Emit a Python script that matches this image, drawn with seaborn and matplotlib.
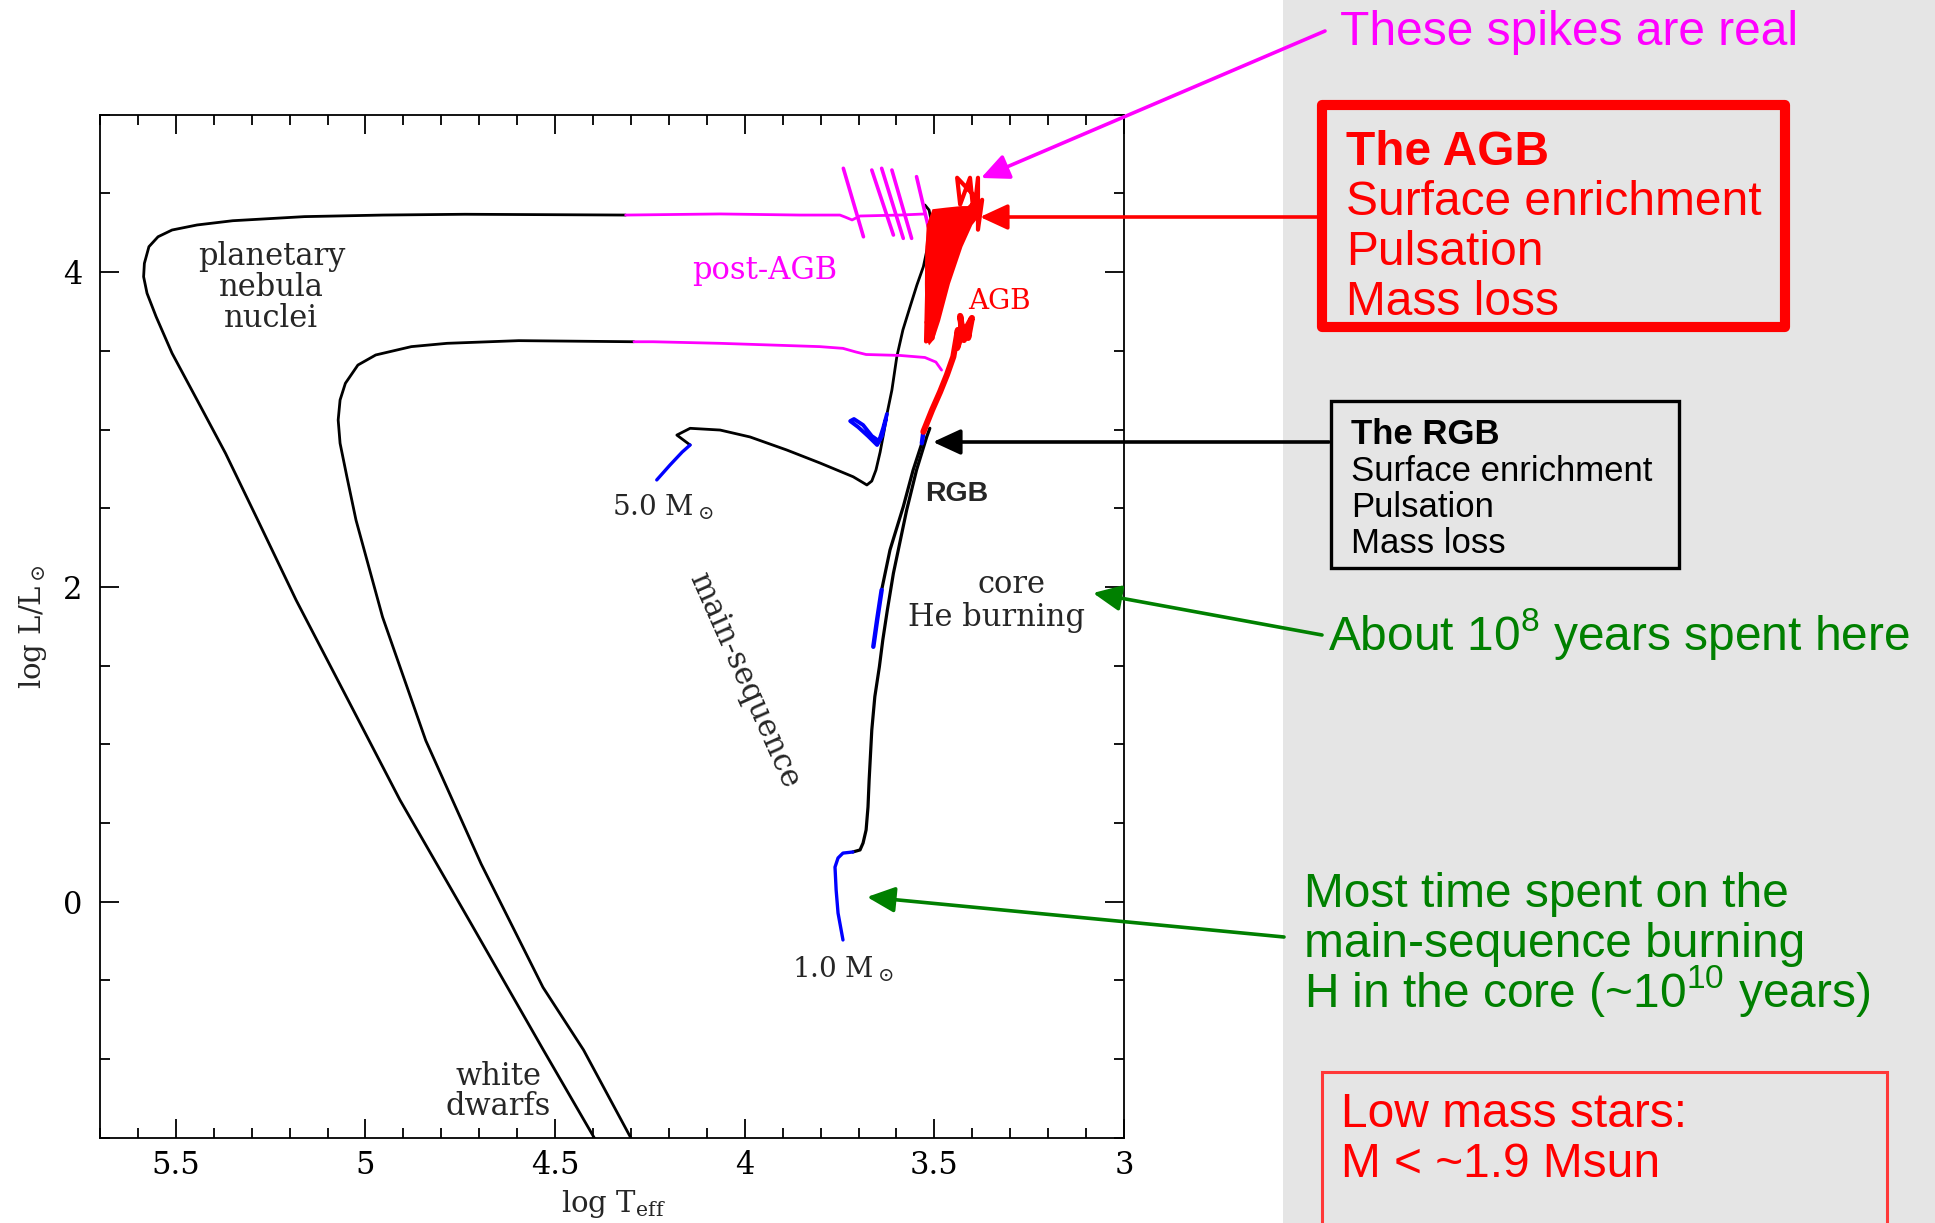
import matplotlib
matplotlib.use("Agg")
import matplotlib.pyplot as plt
import seaborn as sns
from matplotlib.patches import Rectangle, FancyArrowPatch, ArrowStyle
from matplotlib.ticker import MultipleLocator

# ---------------- evolutionary tracks (log Teff, log L/Lsun) ----------------
# 5 Msun: main sequence
ms5_teff = [4.232, 4.197, 4.165, 4.144]
ms5_lum = [2.680, 2.775, 2.857, 2.902]
# 5 Msun: hook, Hertzsprung gap, giant branch and early AGB
giant5_teff = [4.144, 4.179, 4.144, 4.065, 3.986, 3.889, 3.802, 3.714, 3.691, 3.678,
               3.665, 3.654, 3.643, 3.633, 3.625, 3.612, 3.599, 3.583, 3.564, 3.546,
               3.529, 3.514, 3.507, 3.514, 3.525]
giant5_lum = [2.902, 2.965, 3.008, 2.997, 2.953, 2.870, 2.788, 2.700, 2.667, 2.648,
              2.673, 2.743, 2.857, 2.985, 3.099, 3.251, 3.463, 3.633, 3.781, 3.919,
              4.035, 4.204, 4.312, 4.395, 4.427]
# 5 Msun: core He burning loop
heb5_teff = [3.628, 3.638, 3.651, 3.675, 3.701, 3.722, 3.712, 3.688, 3.665, 3.646, 3.635, 3.625]
heb5_lum = [3.061, 2.959, 2.902, 2.959, 3.016, 3.054, 3.067, 3.029, 2.959, 2.927, 3.010, 3.099]
# 5 Msun: thermally pulsing AGB (successive pulse cycles)
tp5_teff = [3.515,
            3.522, 3.505, 3.490, 3.470, 3.450,
            3.518, 3.500, 3.470, 3.440,
            3.520, 3.495, 3.460, 3.430,
            3.516, 3.485, 3.450, 3.420,
            3.512, 3.475, 3.440, 3.410,
            3.508, 3.465, 3.425, 3.400,
            3.505, 3.455, 3.415, 3.392,
            3.500, 3.445, 3.400, 3.385,
            3.440, 3.432, 3.406, 3.396, 3.385, 3.385, 3.374]
tp5_lum = [4.300,
           3.560, 3.580, 3.800, 4.050, 4.280,
           3.620, 3.750, 3.980, 4.300,
           3.680, 3.850, 4.100, 4.340,
           3.780, 3.950, 4.180, 4.370,
           3.900, 4.050, 4.250, 4.400,
           4.000, 4.150, 4.330, 4.420,
           4.100, 4.250, 4.380, 4.440,
           4.200, 4.320, 4.430, 4.460,
           4.600, 4.430, 4.600, 4.360, 4.600, 4.270, 4.460]
# 5 Msun: envelope of the region swept by the pulse cycles
tp5_env_teff = [3.505, 3.517, 3.524, 3.525, 3.524, 3.520, 3.514,
                3.501, 3.485, 3.459, 3.426, 3.400, 3.380, 3.385, 3.430, 3.470]
tp5_env_lum = [4.400, 4.320, 4.160, 3.930, 3.700, 3.570, 3.535,
               3.573, 3.690, 3.926, 4.161, 4.300, 4.360, 4.420, 4.420, 4.410]
# 5 Msun: post-AGB crossing
pagb5_teff = [3.525, 3.591, 3.696, 3.717, 3.736, 3.749, 3.854, 4.065, 4.314]
pagb5_lum = [4.370, 4.363, 4.357, 4.332, 4.351, 4.363, 4.363, 4.370, 4.363]
# 5 Msun: pulse spikes on the post-AGB crossing (top point, bottom point)
spike_teff_top = [3.740, 3.665, 3.639, 3.612, 3.547]
spike_lum_top = [4.660, 4.649, 4.660, 4.649, 4.607]
spike_teff_bot = [3.687, 3.608, 3.582, 3.560, 3.516]
spike_lum_bot = [4.225, 4.236, 4.215, 4.215, 4.289]
# 5 Msun: planetary nebula nucleus and white dwarf cooling
wd5_teff = [4.314, 4.738, 4.954, 5.161, 5.350, 5.444, 5.510, 5.547, 5.571, 5.583, 5.585,
            5.576, 5.552, 5.510, 5.444, 5.369, 5.284, 5.183, 5.046, 4.909, 4.724, 4.531, 4.392]
wd5_lum = [4.363, 4.368, 4.363, 4.353, 4.327, 4.300, 4.268, 4.225, 4.162, 4.056, 3.971,
           3.866, 3.717, 3.485, 3.188, 2.849, 2.425, 1.917, 1.282, 0.646, -0.129, -0.942, -1.52]

# 1 Msun: main sequence
ms1_teff = [3.741, 3.754, 3.759, 3.762, 3.754, 3.741, 3.715]
ms1_lum = [-0.243, -0.072, 0.074, 0.220, 0.278, 0.309, 0.316]
# 1 Msun: subgiant and red giant branch
rgb1_teff = [3.715, 3.696, 3.688, 3.680, 3.675, 3.672, 3.665, 3.657, 3.645, 3.636,
             3.624, 3.608, 3.573, 3.547, 3.520, 3.512]
rgb1_lum = [0.316, 0.329, 0.373, 0.456, 0.602, 0.773, 1.091, 1.303, 1.493, 1.663,
            1.853, 2.087, 2.489, 2.743, 2.955, 3.008]
# 1 Msun: core He burning clump
heb1_teff = [3.661, 3.651, 3.639]
heb1_lum = [1.620, 1.790, 1.981]
# 1 Msun: early AGB
eagb1_teff = [3.639, 3.617, 3.582, 3.556, 3.533]
eagb1_lum = [1.981, 2.235, 2.510, 2.743, 2.913]
shell1_teff = [3.533, 3.529]
shell1_lum = [2.913, 2.986]
# 1 Msun: thermally pulsing AGB
tp1_teff = [3.529, 3.506, 3.485, 3.467, 3.450, 3.438, 3.440, 3.427, 3.432, 3.422,
            3.414, 3.401, 3.411, 3.409]
tp1_lum = [2.986, 3.124, 3.239, 3.347, 3.463, 3.633, 3.518, 3.614, 3.722, 3.569,
           3.652, 3.709, 3.582, 3.645]
# 1 Msun: post-AGB crossing
pagb1_teff = [3.481, 3.496, 3.525, 3.591, 3.680, 3.707, 3.741, 3.802, 4.065, 4.242, 4.292]
pagb1_lum = [3.378, 3.429, 3.458, 3.471, 3.477, 3.493, 3.516, 3.527, 3.548, 3.558, 3.558]
# 1 Msun: planetary nebula nucleus and white dwarf cooling
wd1_teff = [4.292, 4.596, 4.785, 4.879, 4.973, 5.020, 5.053, 5.067, 5.072, 5.067,
            5.049, 5.025, 4.955, 4.841, 4.695, 4.532, 4.425, 4.296]
wd1_lum = [3.558, 3.565, 3.548, 3.527, 3.474, 3.410, 3.294, 3.188, 3.061, 2.913,
           2.700, 2.425, 1.809, 1.024, 0.240, -0.544, -0.942, -1.52]

x_ticks = [5.5, 5.0, 4.5, 4.0, 3.5, 3.0]
x_ticklabels = ["5.5", "5", "4.5", "4", "3.5", "3"]
y_ticks = [0, 2, 4]
y_ticklabels = ["0", "2", "4"]

# ---------------- figure ----------------
sns.set_theme(style="ticks")
plt.rcParams["font.family"] = ["DejaVu Serif"]
plt.rcParams["axes.linewidth"] = 1.3

W, H = 1935, 1223
fig = plt.figure(figsize=(W / 100, H / 100), dpi=100, facecolor="white")


def fx(x):
    return x / W


def fy(y):
    return 1 - y / H


# grey side panel
fig.add_artist(Rectangle((fx(1283), 0), 1 - fx(1283), 1, transform=fig.transFigure,
                         facecolor="#e5e5e5", edgecolor="none", zorder=-1))

ax = fig.add_axes([fx(100), fy(1137.8), 1024 / W, 1023 / H])
ax.set_facecolor("white")

BLACK, BLUE, RED, MAG = "black", "#0000ff", "#ff0000", "#ff00ff"


def track(t, l, color, lw, z=2):
    sns.lineplot(x=t, y=l, sort=False, estimator=None, color=color,
                 linewidth=lw, ax=ax, legend=False, zorder=z)


track(wd5_teff, wd5_lum, BLACK, 2.0)
track(wd1_teff, wd1_lum, BLACK, 2.0)
track(giant5_teff, giant5_lum, BLACK, 2.0)
track(rgb1_teff, rgb1_lum, BLACK, 2.3)
track(eagb1_teff, eagb1_lum, BLACK, 2.3)
track(ms5_teff, ms5_lum, BLUE, 2.4, 3)
track(heb5_teff, heb5_lum, BLUE, 2.8, 3)
track(ms1_teff, ms1_lum, BLUE, 2.4, 3)
track(heb1_teff, heb1_lum, BLUE, 3.2, 3)
track(shell1_teff, shell1_lum, BLUE, 3.2, 3)
track(pagb5_teff, pagb5_lum, MAG, 2.0, 3)
track(pagb1_teff, pagb1_lum, MAG, 2.0, 3)
for t0, l0, t1, l1 in zip(spike_teff_top, spike_lum_top, spike_teff_bot, spike_lum_bot):
    ax.plot([t0, t1], [l0, l1], color=MAG, lw=2.6, zorder=3)
ax.fill(tp5_env_teff, tp5_env_lum, color=RED, lw=0, zorder=4)
track(tp5_teff, tp5_lum, RED, 3.0, 4)
track(tp1_teff, tp1_lum, RED, 4.4, 4)

ax.set_xlim(5.7, 3.0)
ax.set_ylim(-1.5, 5.0)
ax.set_xticks(x_ticks, x_ticklabels)
ax.set_yticks(y_ticks, y_ticklabels)
ax.xaxis.set_minor_locator(MultipleLocator(0.1))
ax.yaxis.set_minor_locator(MultipleLocator(0.5))
ax.tick_params(which="both", direction="in", top=True, right=True, width=1.3,
               colors="black", labelsize=22)
ax.tick_params(which="major", length=13.5)
ax.tick_params(which="minor", length=7)
ax.tick_params(axis="x", pad=9)
ax.tick_params(axis="y", pad=13)
ax.set_xlabel("")
ax.set_ylabel("")
for s in ax.spines.values():
    s.set_color("black")
    s.set_linewidth(1.3)

serif = dict(family="DejaVu Serif", fontsize=22, math_fontfamily="dejavuserif")
serif_s = dict(family="DejaVu Serif", fontsize=20, math_fontfamily="dejavuserif")
ax.text(5.248, 3.902, "planetary\nnebula\nnuclei", ha="center", va="center",
        linespacing=1.0, **serif)
ax.text(3.947, 4.012, "post-AGB", color=MAG, ha="center", va="center", **serif)
ax.text(3.329, 3.816, "AGB", color=RED, ha="center", va="center", **serif_s)
ax.text(4.350, 2.452, r"5.0 M$_\odot$", ha="left", va="baseline", **serif_s)
ax.text(3.875, -0.481, r"1.0 M$_\odot$", ha="left", va="baseline", **serif_s)
ax.text(3.442, 2.593, "RGB", family="Liberation Sans", weight="bold", fontsize=20.5,
        ha="center", va="center")
ax.text(3.296, 2.013, "core", ha="center", va="center", **serif)
ax.text(3.335, 1.809, "He burning", ha="center", va="center", **serif)
ax.text(4.002, 1.401, "main-sequence", rotation=-66, ha="center", va="center", **serif)
ax.text(4.649, -1.108, "white", ha="center", va="center", **serif)
ax.text(4.649, -1.304, "dwarfs", ha="center", va="center", **serif)

fig.text(fx(33), fy(627), r"log L/L$_\odot$", rotation=90, ha="center", va="center",
         family="DejaVu Serif", fontsize=21, math_fontfamily="dejavuserif")
fig.text(fx(613), fy(1212), r"log T$_{\mathregular{eff}}$", ha="center", va="baseline",
         family="DejaVu Serif", fontsize=21, math_fontfamily="dejavuserif")

# ---------------- side panel annotations ----------------
sans = dict(family="Liberation Sans", va="baseline")
BIG = 34.5


def arrow(p0, p1, color):
    fig.add_artist(FancyArrowPatch((fx(p0[0]), fy(p0[1])), (fx(p1[0]), fy(p1[1])),
                                   transform=fig.transFigure,
                                   arrowstyle=ArrowStyle("-|>", head_length=0.65, head_width=0.3),
                                   mutation_scale=26, color=color, lw=2.6,
                                   shrinkA=0, shrinkB=0, zorder=10))


fig.text(fx(1340), fy(45), "These spikes are real", color=MAG, fontsize=BIG, **sans)
arrow((1325, 31), (981, 178), MAG)

fig.add_artist(Rectangle((fx(1322), fy(327)), fx(1785) - fx(1322), fy(105) - fy(327),
                         transform=fig.transFigure, facecolor="none", edgecolor=RED,
                         lw=7.3, joinstyle="round", zorder=5))
fig.text(fx(1346), fy(165), "The AGB", color=RED, fontsize=BIG, weight="bold", **sans)
for txt, yb in zip(["Surface enrichment", "Pulsation", "Mass loss"], [215, 265, 315]):
    fig.text(fx(1346), fy(yb), txt, color=RED, fontsize=BIG, **sans)
arrow((1318, 217), (980, 217), RED)

fig.add_artist(Rectangle((fx(1330.5), fy(568)), fx(1678.5) - fx(1330.5), fy(401) - fy(568),
                         transform=fig.transFigure, facecolor="none", edgecolor="black",
                         lw=2.4, zorder=5))
fig.text(fx(1351), fy(444), "The RGB", color="black", fontsize=25, weight="bold", **sans)
for txt, yb in zip(["Surface enrichment", "Pulsation", "Mass loss"], [480.7, 516.7, 552.7]):
    fig.text(fx(1351), fy(yb), txt, color="black", fontsize=25, **sans)
arrow((1329, 442), (933, 442), "black")

GREEN = "#008000"
fig.text(fx(1328.5), fy(650), r"About 10$^{\mathregular{8}}$ years spent here",
         color=GREEN, fontsize=BIG, **sans)
arrow((1322, 635), (1093, 593), GREEN)

for txt, yb in zip(["Most time spent on the", "main-sequence burning",
                    r"H in the core (~10$^{\mathregular{10}}$ years)"],
                   [906.7, 956.7, 1006.7]):
    fig.text(fx(1304.5), fy(yb), txt, color=GREEN, fontsize=BIG, **sans)
arrow((1284, 937), (867, 897), GREEN)

fig.add_artist(Rectangle((fx(1321.5), fy(1240)), fx(1886.5) - fx(1321.5), fy(1071.5) - fy(1240),
                         transform=fig.transFigure, facecolor="none", edgecolor="#ff3838",
                         lw=2.2, zorder=5, clip_on=False))
fig.text(fx(1341), fy(1127.3), "Low mass stars:", color=RED, fontsize=BIG, **sans)
fig.text(fx(1341), fy(1177.3), "M < ~1.9 Msun", color=RED, fontsize=BIG, **sans)

fig.savefig("out.png", dpi=100, facecolor="white")
